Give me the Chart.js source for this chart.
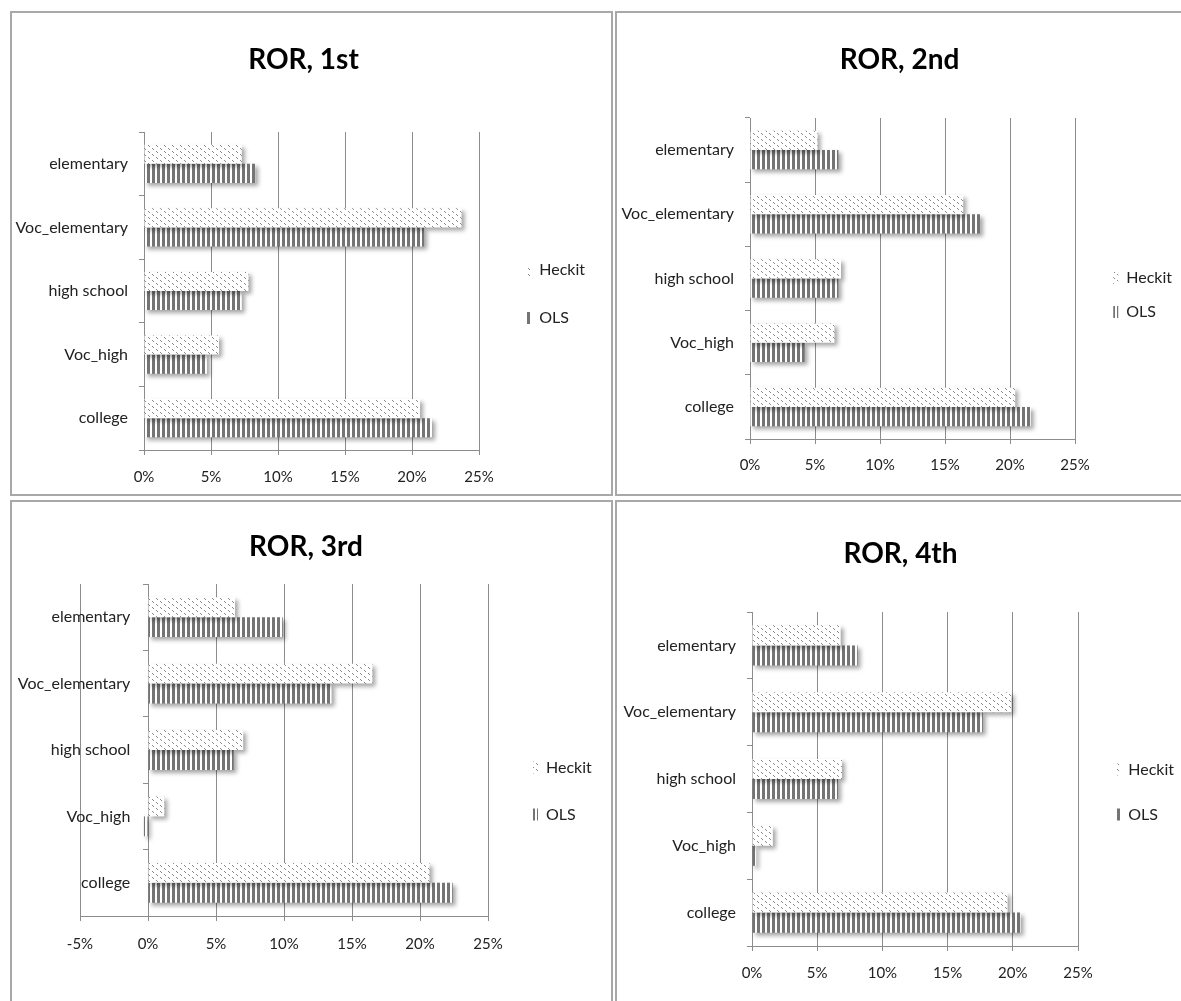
<!DOCTYPE html>
<html>
<head>
<meta charset="utf-8">
<script src="https://cdn.jsdelivr.net/npm/chart.js@4.4.1/dist/chart.umd.min.js"></script>
<style>
  body { margin: 0; background: #fff; width: 1181px; height: 1001px; overflow: hidden; position: relative; }
  .panel { position: absolute; border: 2px solid #a8a8a8; background: #fff; overflow: hidden; }
  canvas { display: block; }
</style>
</head>
<body>
<div class="panel" style="left:10px;top:11px;width:599px;height:481px"><canvas id="c1"></canvas></div>
<div class="panel" style="left:615px;top:11px;width:600px;height:481px"><canvas id="c2"></canvas></div>
<div class="panel" style="left:10px;top:500px;width:599px;height:540px"><canvas id="c3"></canvas></div>
<div class="panel" style="left:615px;top:500px;width:600px;height:540px"><canvas id="c4"></canvas></div>
<script>
// data (percent)
const categories = ["elementary", "Voc_elementary", "high school", "Voc_high", "college"];
const seriesNames = ["Heckit", "OLS"];
const titles = ["ROR, 1st", "ROR, 2nd", "ROR, 3rd", "ROR, 4th"];

const heckit1 = [7.3, 23.7, 7.8, 5.6, 20.6];
const ols1 = [8.3, 20.9, 7.3, 4.7, 21.5];
const heckit2 = [5.2, 16.4, 7.0, 6.5, 20.4];
const ols2 = [6.8, 17.7, 6.8, 4.2, 21.6];
const heckit3 = [6.4, 16.5, 7.0, 1.2, 20.7];
const ols3 = [9.9, 13.5, 6.3, -0.3, 22.4];
const heckit4 = [6.8, 19.9, 6.9, 1.6, 19.6];
const ols4 = [8.1, 17.7, 6.6, 0.3, 20.6];

const xMins = [0, 0, -5, 0];
const xMax = 25;
const xStep = 5;

Chart.defaults.font.family = "Lato, 'Liberation Sans', sans-serif";
Chart.defaults.color = "#222";

// fill patterns
const makeStripes = () => {
  const c = document.createElement("canvas");
  c.width = 5; c.height = 5;
  const g = c.getContext("2d");
  g.fillStyle = "#fff"; g.fillRect(0, 0, 5, 5);
  g.fillStyle = "#747474"; g.fillRect(0, 0, 3, 5);
  return g.createPattern(c, "repeat");
};
const makeDots = () => {
  const c = document.createElement("canvas");
  c.width = 8; c.height = 6;
  const g = c.getContext("2d");
  g.fillStyle = "#fff"; g.fillRect(0, 0, 8, 6);
  g.fillStyle = "#8a8a8a";
  g.fillRect(0, 0, 1, 1); g.fillRect(1, 1, 1, 1);
  g.fillRect(4, 3, 1, 1); g.fillRect(5, 4, 1, 1);
  return g.createPattern(c, "repeat");
};
const dots = makeDots();
const stripes = makeStripes();

const barShadow = {
  id: "barShadow",
  beforeDatasetsDraw(chart) {
    const c = chart.ctx;
    c.save();
    c.shadowColor = "rgba(0,0,0,0.35)";
    c.shadowBlur = 4;
    c.shadowOffsetX = 3;
    c.shadowOffsetY = 3;
  },
  afterDatasetsDraw(chart) {
    chart.ctx.restore();
  },
};

// layout of each panel, relative to the panel's inner box
const boxes = [
  { W: 583, H: 562, CL: 132, CR: 467, top: 119, bottom: 437, titleY: 47, labelY: 464, legPad: 32 },
  { W: 565, H: 564, CL: 133, CR: 458, top: 105, bottom: 426, titleY: 47, labelY: 452, legPad: 18 },
  { W: 588, H: 578, CL: 68, CR: 476, top: 82, bottom: 414, titleY: 45, labelY: 442, legPad: 31 },
  { W: 567, H: 580, CL: 135, CR: 461, top: 110, bottom: 444, titleY: 52, labelY: 471, legPad: 29 },
];

// invisible axis used only to reserve space
const spacer = (position, width) => ({
  type: "linear",
  axis: "y",
  position,
  display: false,
  afterFit: (s) => { s.width = width(s); },
});

const makeChart = (id, title, heckit, ols, xMin, b) => {
  const canvas = document.getElementById(id);
  canvas.width = b.W;
  canvas.height = b.H;
  // with negative values the category axis sits on 0%
  const onZero = xMin < 0;

  const scales = {
    x: {
      type: "linear",
      min: xMin,
      max: xMax,
      ticks: {
        stepSize: xStep,
        callback: (v) => v + "%",
        font: { size: 15 },
        padding: b.labelY - b.bottom - 5 - 9,
      },
      grid: { color: "#8c8c8c", tickLength: 5 },
      border: { color: "#8c8c8c" },
      afterFit: (s) => { s.height = b.H - b.bottom; },
    },
    y: {
      type: "category",
      axis: "y",
      position: onZero ? { x: 0 } : "left",
      ticks: { display: !onZero, font: { size: 16 }, padding: 11 },
      grid: { drawOnChartArea: false, tickLength: 5, color: "#8c8c8c" },
      border: { color: "#8c8c8c" },
      afterFit: (s) => { if (!onZero) s.width = b.CL; },
    },
    // space between the plot and the legend
    gap: spacer("right", (s) => b.W - b.CR - s.chart.legend.width),
  };
  if (onZero) {
    scales.padL = spacer("left", () => b.CL);
    // category names, set a little left of the 0% axis
    scales.yNames = {
      type: "category",
      axis: "y",
      offset: true,
      position: { x: -1.3 },
      ticks: { font: { size: 16 } },
      grid: { display: false },
      border: { display: false },
    };
  }

  return new Chart(canvas.getContext("2d"), {
    type: "bar",
    data: {
      labels: categories,
      datasets: [
        { label: seriesNames[0], data: heckit, backgroundColor: dots },
        { label: seriesNames[1], data: ols, backgroundColor: stripes },
      ],
    },
    options: {
      indexAxis: "y",
      responsive: false,
      animation: false,
      devicePixelRatio: 1,
      categoryPercentage: 0.6,
      barPercentage: 1.0,
      layout: { padding: 0 },
      scales,
      plugins: {
        title: {
          display: true,
          text: title,
          color: "#000",
          font: { size: 28, weight: "bold" },
          padding: { top: b.titleY - 16.8, bottom: b.top - b.titleY - 16.8 },
        },
        legend: {
          position: "right",
          labels: {
            boxWidth: 5,
            boxHeight: 12,
            padding: b.legPad,
            font: { size: 16 },
            color: "#222",
          },
        },
        tooltip: { enabled: false },
      },
    },
    plugins: [barShadow],
  });
};

makeChart("c1", titles[0], heckit1, ols1, xMins[0], boxes[0]);
makeChart("c2", titles[1], heckit2, ols2, xMins[1], boxes[1]);
makeChart("c3", titles[2], heckit3, ols3, xMins[2], boxes[2]);
makeChart("c4", titles[3], heckit4, ols4, xMins[3], boxes[3]);
</script>
</body>
</html>
